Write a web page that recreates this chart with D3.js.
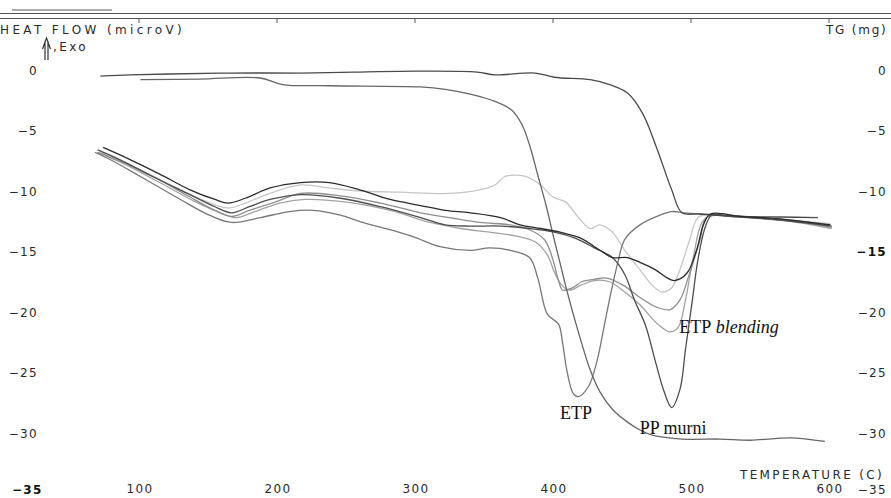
<!DOCTYPE html>
<html>
<head>
<meta charset="utf-8">
<script src="https://cdn.jsdelivr.net/npm/d3@7/dist/d3.min.js"></script>
<style>
body { margin: 0; background: #fff; }
svg { display: block; }
.plotter { font-family: "DejaVu Sans", sans-serif; font-size: 12px; fill: #2a2a2a; letter-spacing: 1.3px; }
.note { font-family: "Liberation Serif", "Times New Roman", serif; font-size: 18px; fill: #111; }
</style>
</head>
<body>
<div id="chart"></div>
<script>
// [temperature (C), heat flow (microV)]
const dscEtp = [[68,-6.8],[79,-7.4],[101,-8.8],[130,-10.7],[151,-12.0],[167,-12.6],[188,-12.2],[209,-11.7],[226,-11.6],[246,-12.0],[262,-12.6],[282,-13.2],[299,-13.8],[318,-14.6],[340,-14.9],[354,-14.7],[369,-14.9],[383,-15.5],[389,-17.2],[396,-20.2],[404,-21.0],[407,-22.6],[410,-24.8],[414.5,-26.7],[418,-27.0],[425.5,-26.2],[432,-24.0],[437,-21.2],[442,-18.4],[447,-15.9],[452,-14.0],[463,-12.8],[477.5,-12.0],[486,-11.7],[495,-11.8],[506,-11.9],[535,-12.15],[564,-12.4],[586,-12.6],[601,-12.8]]
const dscPp = [[70,-6.6],[86,-7.4],[108,-8.7],[137,-10.3],[155,-11.3],[167,-11.8],[180,-11.3],[195,-10.7],[217,-10.3],[246,-10.6],[275,-11.3],[304,-12.2],[322,-12.8],[340,-12.9],[362,-12.9],[383,-13.1],[401,-13.4],[416,-13.9],[430,-14.7],[443,-15.5],[452,-16.9],[459,-19.0],[467,-21.1],[474,-24.0],[480,-26.4],[486,-27.9],[492,-26.4],[496,-23.1],[501,-19.0],[505,-15.7],[510,-13.1],[515,-12.0],[528,-12.1],[557,-12.3],[579,-12.6],[602,-12.9]]
const dscDark = [[74,-6.4],[93.5,-7.4],[115,-8.6],[137,-9.9],[155,-10.7],[164.5,-11.0],[177,-10.6],[195,-9.75],[217,-9.3],[238,-9.3],[260,-9.9],[282,-10.7],[304,-11.2],[322,-11.6],[340,-11.8],[362,-12.2],[376,-12.8],[391,-13.1],[405,-13.4],[420,-13.9],[434,-14.9],[443,-15.5],[454,-15.5],[463,-15.9],[474,-16.5],[483,-17.2],[488,-17.4],[497,-16.8],[504,-14.9],[509,-12.8],[514,-11.9],[535.5,-12.1],[564.5,-12.3],[586,-12.6],[601,-12.8]]
const dscLight = [[72,-6.8],[93.5,-7.85],[115,-9.1],[141,-10.5],[159,-11.3],[166,-11.4],[177,-11.0],[195,-10.2],[217,-9.5],[238,-9.75],[260,-10.0],[289,-10.1],[325,-10.2],[347,-9.9],[358,-9.5],[365,-8.8],[370,-8.7],[380,-8.8],[391,-9.5],[400,-10.5],[409,-10.9],[420,-12.4],[427,-13.1],[434,-12.8],[443,-13.4],[452,-14.9],[463,-16.5],[472,-17.8],[479,-18.35],[486,-18.0],[492,-16.5],[499,-14.05],[505,-12.2],[514,-11.9],[543,-12.15],[572,-12.4],[601,-12.7]]
const dscMid = [[70,-6.8],[90,-7.7],[112,-8.9],[137,-10.5],[155,-11.6],[167,-12.1],[180,-11.6],[199,-10.9],[217,-10.2],[246,-10.4],[275,-11.0],[304,-11.8],[325,-12.2],[347,-12.6],[369,-12.8],[383,-13.2],[394,-14.05],[400,-15.7],[404,-17.4],[407,-18.2],[414,-18.0],[421,-17.5],[430,-17.3],[439,-17.2],[451,-17.8],[463,-18.8],[475,-19.6],[485,-19.8],[492,-19.0],[499,-16.8],[506.5,-14.05],[511,-12.2],[521,-12.0],[550,-12.2],[579,-12.5],[602,-13.0]]
const dscBlend = [[70,-6.8],[90,-7.8],[115,-9.3],[141,-10.9],[159,-11.8],[170,-12.2],[184,-11.7],[202,-11.0],[220,-10.7],[249,-10.9],[282,-11.6],[311,-12.6],[333,-13.1],[354,-13.4],[372.5,-13.7],[387,-14.2],[396,-15.3],[401,-16.7],[406.5,-17.8],[412,-18.2],[420,-17.8],[430,-17.4],[441,-17.5],[452,-18.35],[463,-19.4],[475,-20.9],[485,-21.65],[491,-21.2],[496,-19.0],[502,-15.3],[508,-12.6],[515,-12.0],[543,-12.2],[572,-12.5],[602,-13.1]]

// [temperature (C), TG (mg)]
const tgPp = [[72,-0.5],[93.5,-0.4],[122,-0.33],[166,-0.25],[217,-0.25],[260,-0.17],[300,-0.1],[345,-0.17],[358,-0.4],[387,-0.25],[401,-0.6],[427,-0.8],[441,-1.2],[454,-1.9],[465,-3.6],[475,-6.4],[486,-9.9],[493.5,-11.8],[506,-11.9],[535.5,-12.1],[564.5,-12.15],[592,-12.2]]
const tgEtp = [[101,-0.8],[144,-0.75],[188,-0.66],[204,-1.2],[238,-1.3],[304,-1.4],[322,-1.6],[340,-2.0],[358,-2.6],[370,-3.3],[377.5,-4.5],[383,-6.2],[389,-8.7],[395,-11.2],[400,-13.6],[405,-15.9],[410,-18.2],[418,-21.5],[427,-24.8],[434,-26.6],[443.5,-28.1],[454,-29.1],[463,-29.75],[472.5,-30.2],[494,-30.5],[521,-30.5],[543,-30.6],[572,-30.4],[597,-30.7]]

const tempTicks = [100, 200, 300, 400, 500, 600]
const heatTicks = [0, -5, -10, -15, -20, -25, -30]
const tgTicks = [0, -5, -10, -15, -20, -25, -30, -35]

const width = 891, height = 498

const x = d3.scaleLinear().domain([100, 600]).range([139, 829])
const yHeat = d3.scaleLinear().domain([0, -35]).range([70, 493.5])
const yTg = d3.scaleLinear().domain([0, -35]).range([70, 493.5])

const svg = d3.select('#chart').append('svg')
	.attr('width', width)
	.attr('height', height)

// plotter frame at the top
const frame = svg.append('g').attr('stroke', '#555').attr('stroke-width', 1)
frame.append('line').attr('x1', 12).attr('x2', 112).attr('y1', 10).attr('y2', 10)
frame.append('line').attr('x1', 0).attr('x2', width).attr('y1', 13.5).attr('y2', 13.5)
frame.append('line').attr('x1', 0).attr('x2', width).attr('y1', 18.5).attr('y2', 18.5)
frame.selectAll('.tick-top')
	.data(tempTicks)
	.enter().append('line')
	.attr('class', 'tick-top')
	.attr('x1', d => x(d)).attr('x2', d => x(d))
	.attr('y1', 18).attr('y2', 23)

// axis titles
svg.append('text').attr('class', 'plotter')
	.attr('x', 0).attr('y', 34)
	.attr('textLength', 183).attr('lengthAdjust', 'spacing')
	.text('HEAT FLOW (microV)')
svg.append('text').attr('class', 'plotter')
	.attr('x', 826).attr('y', 34)
	.attr('textLength', 61).attr('lengthAdjust', 'spacing')
	.text('TG (mg)')
svg.append('text').attr('class', 'plotter')
	.attr('x', 740).attr('y', 479)
	.attr('textLength', 143).attr('lengthAdjust', 'spacing')
	.text('TEMPERATURE (C)')

// exo arrow
svg.append('path')
	.attr('d', 'M42.5,49 L46.5,38 L50.5,49 M45,60 L45,41 M48,60 L48,41')
	.attr('fill', 'none').attr('stroke', '#333').attr('stroke-width', 1.2)
svg.append('text').attr('class', 'plotter')
	.attr('x', 53).attr('y', 51)
	.attr('textLength', 34).attr('lengthAdjust', 'spacing')
	.text(',Exo')

// left heat flow labels
svg.append('g').selectAll('text')
	.data(heatTicks)
	.enter().append('text')
	.attr('class', 'plotter')
	.attr('x', 38)
	.attr('y', d => yHeat(d) + 4.5)
	.attr('text-anchor', 'end')
	.text(d => d === 0 ? '0' : '\u2212' + Math.abs(d))
svg.append('text').attr('class', 'plotter')
	.attr('x', 12).attr('y', 494)
	.style('font-weight', 'bold').style('fill', '#111')
	.text('\u221235')

// right TG labels
svg.append('g').selectAll('text')
	.data(tgTicks)
	.enter().append('text')
	.attr('class', 'plotter')
	.attr('x', 887)
	.attr('y', d => d === -35 ? 494 : yTg(d) + 4.5)
	.attr('text-anchor', 'end')
	.style('font-weight', d => d === -15 ? 'bold' : 'normal')
	.style('fill', d => d === -15 ? '#111' : null)
	.text(d => d === 0 ? '0' : '\u2212' + Math.abs(d))

// temperature labels
svg.append('g').selectAll('text')
	.data(tempTicks)
	.enter().append('text')
	.attr('class', 'plotter')
	.attr('x', d => x(d) + 1)
	.attr('y', 493)
	.attr('text-anchor', 'middle')
	.text(d => d)

// curves
const heatLine = d3.line()
	.x(d => x(d[0]))
	.y(d => yHeat(d[1]))
	.curve(d3.curveCatmullRom.alpha(0.5))
const tgLine = d3.line()
	.x(d => x(d[0]))
	.y(d => yTg(d[1]))
	.curve(d3.curveCatmullRom.alpha(0.5))

const series = [
	{ data: dscLight, line: heatLine, color: '#c6c6c6' },
	{ data: dscBlend, line: heatLine, color: '#a2a2a2' },
	{ data: dscMid, line: heatLine, color: '#8e8e8e' },
	{ data: dscEtp, line: heatLine, color: '#777' },
	{ data: tgEtp, line: tgLine, color: '#666' },
	{ data: dscPp, line: heatLine, color: '#4d4d4d' },
	{ data: tgPp, line: tgLine, color: '#4a4a4a' },
	{ data: dscDark, line: heatLine, color: '#2b2b2b' }
]

svg.append('g').attr('class', 'curves')
	.selectAll('path')
	.data(series)
	.enter().append('path')
	.attr('d', d => d.line(d.data))
	.attr('fill', 'none')
	.attr('stroke', d => d.color)
	.attr('stroke-width', 1.3)
	.attr('stroke-linejoin', 'round')

// curve names
const notes = [
	{ t: 414.5, v: -26.7, dx: -13, dy: 26, text: 'ETP' },
	{ t: 486, v: -27.9, dx: -32, dy: 26, text: 'PP murni' },
	{ t: 485, v: -21.65, dx: 9, dy: 1, text: 'ETP', extra: 'blending' }
]
const noteText = svg.append('g').selectAll('text')
	.data(notes)
	.enter().append('text')
	.attr('class', 'note')
	.attr('x', d => x(d.t) + d.dx)
	.attr('y', d => yHeat(d.v) + d.dy)
	.text(d => d.text)
noteText.filter(d => d.extra)
	.append('tspan')
	.attr('font-style', 'italic')
	.text(d => ' ' + d.extra)
</script>
</body>
</html>
